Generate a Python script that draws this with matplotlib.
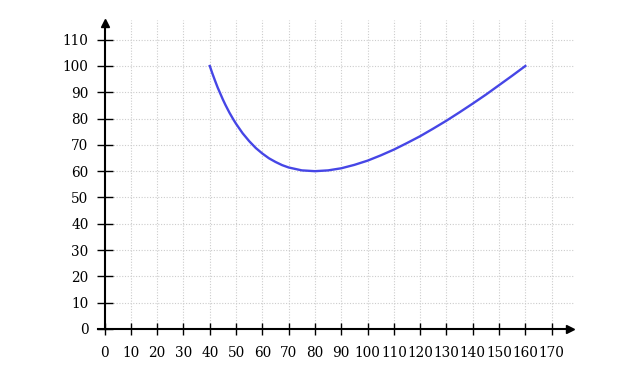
import matplotlib
matplotlib.use("Agg")
import matplotlib.pyplot as plt

# data
x_vals = [40, 41, 42, 43, 44, 45, 46, 47.5, 49, 50, 52.5, 55, 57.5, 60, 62.5, 65, 67.5,
          70, 75, 80, 85, 90, 95, 100, 105, 110, 115, 120, 125, 130, 135, 140, 145, 150,
          155, 160]
y_vals = [100, 97.1, 94.4, 91.8, 89.5, 87.2, 85.1, 82.2, 79.6, 78.0, 74.4, 71.4, 68.8,
          66.7, 64.9, 63.5, 62.3, 61.4, 60.3, 60.0, 60.3, 61.1, 62.4, 64.0, 66.0, 68.2,
          70.7, 73.3, 76.2, 79.2, 82.4, 85.7, 89.1, 92.7, 96.3, 100]
x_ticks = list(range(0, 180, 10))
y_ticks = list(range(0, 120, 10))

plt.rcParams['font.family'] = ['DejaVu Serif']
fig = plt.figure(figsize=(6.39, 3.73), dpi=100)
ax = fig.add_axes([0.1534, 0.111, 0.7387, 0.832])
ax.set_xlim(-2.5, 177)
ax.set_ylim(-1, 117)

# grid
for gx in x_ticks[1:]:
    ax.plot([gx, gx], [0, 117.5], ls=(0, (1, 1.5)), color='#cccccc', lw=0.8, zorder=0, clip_on=False)
for gy in y_ticks[1:]:
    ax.plot([0, 178], [gy, gy], ls=(0, (1, 1.5)), color='#cccccc', lw=0.8, zorder=0, clip_on=False)

ax.plot(x_vals, y_vals, color='#4646e6', lw=1.7, zorder=3)

for s in ['top', 'right']:
    ax.spines[s].set_visible(False)
ax.spines['left'].set_position(('data', 0))
ax.spines['bottom'].set_position(('data', 0))
ax.spines['left'].set_bounds(0, 116)
ax.spines['left'].set_linewidth(1.5)
ax.spines['bottom'].set_linewidth(1.5)
ax.plot(177, 0, marker='>', color='black', ms=6, clip_on=False, zorder=5)
ax.plot(0, 116.5, marker='^', color='black', ms=6, clip_on=False, zorder=5)

ax.set_xticks(x_ticks)
ax.set_yticks(y_ticks)
ax.set_xticklabels([str(t) for t in x_ticks])
ax.set_yticklabels([str(t) for t in y_ticks])
ax.tick_params(axis='x', direction='inout', length=9, width=1.0, pad=8, labelsize=9.8)
ax.tick_params(axis='y', direction='inout', length=11, width=1.0, pad=6, labelsize=9.8)

fig.savefig('out.png', dpi=100)
